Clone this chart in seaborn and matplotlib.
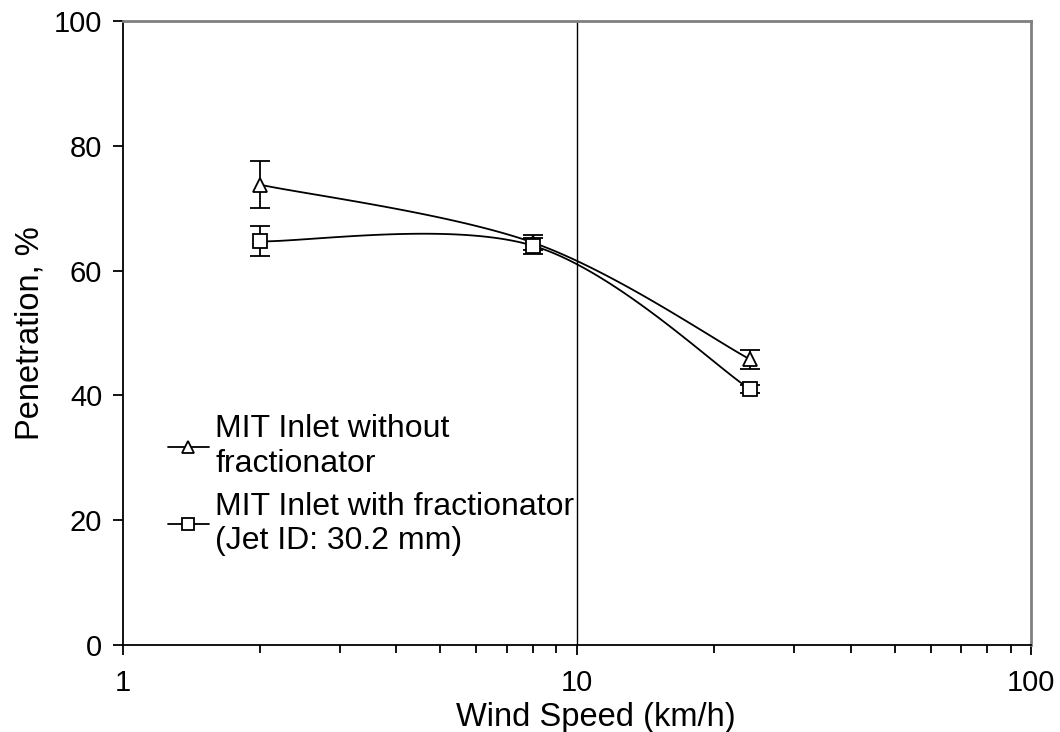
import numpy as np
import pandas as pd
import matplotlib
matplotlib.use('Agg')
import matplotlib.pyplot as plt
from matplotlib.lines import Line2D
import seaborn as sns

# data
wind_speed = [2, 8, 24]
pen_no_frac = [73.8, 64.5, 45.8]
err_no_frac = [3.8, 1.2, 1.5]
pen_frac = [64.7, 64.0, 41.0]
err_frac = [2.4, 1.3, 0.6]
labels = ['MIT Inlet without\nfractionator', 'MIT Inlet with fractionator\n(Jet ID: 30.2 mm)']


def smooth(xs, ys, n=60):
    # Excel-like bezier smoothing (catmull-rom) in log-x space
    u = np.log10(xs)
    p = np.column_stack([u, ys])
    p = np.vstack([p[0], p, p[-1]])
    out = []
    for i in range(1, len(p) - 2):
        p0, p1, p2, p3 = p[i - 1], p[i], p[i + 1], p[i + 2]
        c1 = p1 + (p2 - p0) / 6
        c2 = p2 - (p3 - p1) / 6
        t = np.linspace(0, 1, n)[:, None]
        seg = (1 - t) ** 3 * p1 + 3 * (1 - t) ** 2 * t * c1 + 3 * (1 - t) * t ** 2 * c2 + t ** 3 * p2
        out.append(seg)
    out = np.vstack(out)
    return pd.DataFrame({'x': 10 ** out[:, 0], 'y': out[:, 1]})


sns.set_style('ticks')
plt.rcParams['font.family'] = ['Liberation Sans', 'DejaVu Sans']
plt.rcParams['font.size'] = 21
for k in ['text.color', 'axes.labelcolor', 'xtick.color', 'ytick.color']:
    plt.rcParams[k] = 'black'

fig = plt.figure(figsize=(10.6, 7.32), dpi=100)
ax = fig.add_axes([0.116, 0.119, 0.857, 0.852])

markers = ['^', 's']
for ys, es, m in zip([pen_no_frac, pen_frac], [err_no_frac, err_frac], markers):
    curve = smooth(wind_speed, ys)
    sns.lineplot(data=curve, x='x', y='y', sort=False, color='black', lw=1.3, ax=ax, estimator=None)
    ax.errorbar(wind_speed, ys, yerr=es, fmt=m, mfc='white', mec='black', ms=10, mew=1.3,
                ecolor='black', elinewidth=1.3, capsize=7, capthick=1.3, zorder=3)

ax.axvline(10, color='black', lw=1)
ax.set_xscale('log')
ax.set_xlim(1, 100)
ax.set_ylim(0, 100)
ax.set_yticks([0, 20, 40, 60, 80, 100])
ax.set_xticks([1, 10, 100])
ax.set_xticklabels(['1', '10', '100'])
ax.tick_params(axis='both', which='major', direction='out', length=7, width=1.3, labelsize=21, pad=10)
ax.tick_params(axis='x', which='minor', direction='out', length=6, width=1.3)
ax.tick_params(axis='y', pad=8)
ax.set_xlabel('Wind Speed (km/h)', fontsize=23.5, labelpad=0)
ax.xaxis.set_label_coords(0.52, -0.092)
ax.set_ylabel('Penetration, %', fontsize=23.5, labelpad=6)

for s in ['left', 'bottom']:
    ax.spines[s].set_color('black')
    ax.spines[s].set_linewidth(1.3)
for s in ['top', 'right']:
    ax.spines[s].set_color('gray')
    ax.spines[s].set_linewidth(2)

handles = [Line2D([], [], color='black', lw=1.3, marker=m, mfc='white', mec='black', ms=9, mew=1.3)
           for m in markers]
ax.legend(handles, labels, loc='upper left', bbox_to_anchor=(0.035, 0.39), frameon=False,
          fontsize=23, handlelength=1.3, handletextpad=0.2, labelspacing=0.4, borderaxespad=0)

fig.savefig('out.png', dpi=100)
